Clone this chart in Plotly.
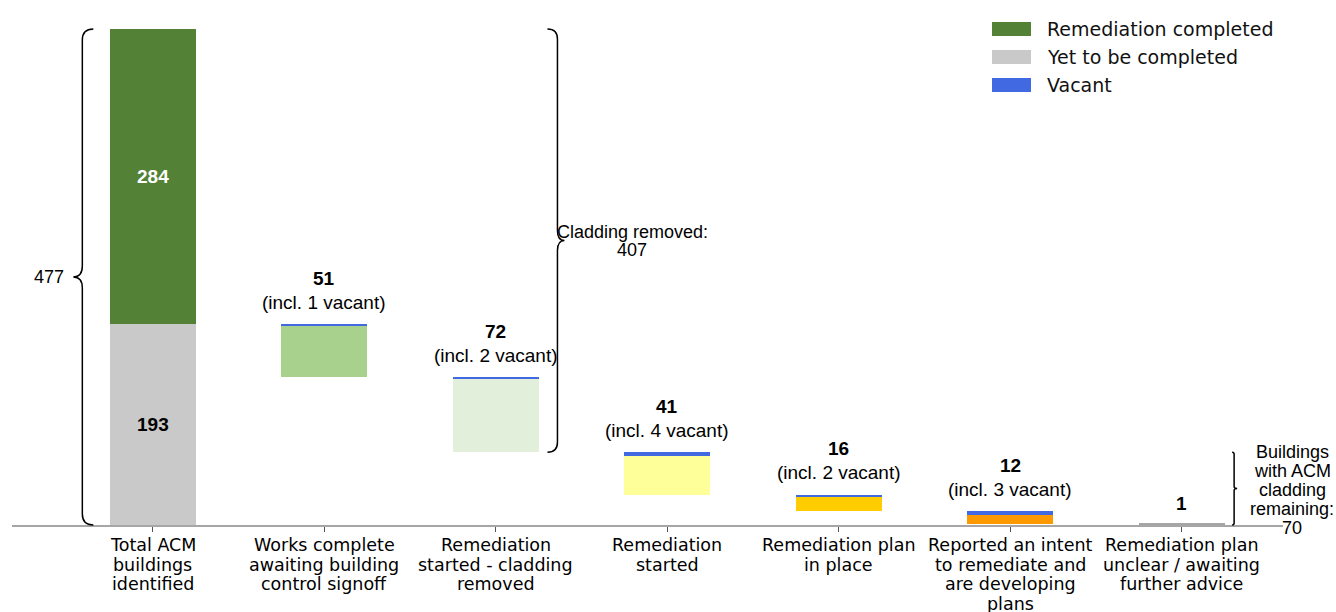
import plotly.graph_objects as go

# ---------------- data ----------------
tick_labels = [
    "Total ACM<br>buildings<br>identified",
    "Works complete<br>awaiting building<br>control signoff",
    "Remediation<br>started - cladding<br>removed",
    "Remediation<br>started",
    "Remediation plan<br>in place",
    "Reported an intent<br>to remediate and<br>are developing<br>plans",
    "Remediation plan<br>unclear / awaiting<br>further advice",
]
total_identified = 477
remediation_completed = 284
yet_to_complete = 193
stage_counts = [51, 72, 41, 16, 12, 1]
stage_vacant = [1, 2, 4, 2, 3, 0]
stage_colors = ["#A9D18E", "#E2EFDA", "#FFFF99", "#FFCC00", "#FF9900", "#A6A6A6"]
cladding_removed = 407
cladding_remaining = 70
legend_names = ["Remediation completed", "Yet to be completed", "Vacant"]
legend_colors = ["#538135", "#C9C9C9", "#4169E1"]

# ---------------- geometry ----------------
W, H = 1336, 612
ML, MR, MT, MB = 12, 53, 5, 87
XR = [-0.82, 6.59]
YR = [0, 500]
PW = W - ML - MR
PH = H - MT - MB

def xpx(v):
    return ML + (v - XR[0]) / (XR[1] - XR[0]) * PW

def ypx(v):
    return H - MB - (v - YR[0]) / (YR[1] - YR[0]) * PH

def xpap(p):
    return (p - ML) / PW

def ypap(p):
    return (H - MB - p) / PH

ANN_FONT = "Liberation Sans, Arial, sans-serif"
TICK_FONT = "DejaVu Sans, sans-serif"

# stage positions (waterfall down from the 'yet to be completed' total)
stage_x = list(range(1, len(stage_counts) + 1))
stage_tops, stage_bottoms = [], []
running = yet_to_complete
for c in stage_counts:
    stage_tops.append(running)
    running -= c
    stage_bottoms.append(running)

fig = go.Figure()

# total bar
fig.add_trace(go.Bar(x=[0], y=[yet_to_complete], base=[0], width=0.5,
                     marker=dict(color=legend_colors[1], line=dict(width=0)),
                     name=legend_names[1], showlegend=False))
fig.add_trace(go.Bar(x=[0], y=[remediation_completed], base=[yet_to_complete], width=0.5,
                     marker=dict(color=legend_colors[0], line=dict(width=0)),
                     name=legend_names[0], showlegend=False))
# stage bars (non-vacant part)
fig.add_trace(go.Bar(x=stage_x,
                     y=[c - v for c, v in zip(stage_counts, stage_vacant)],
                     base=stage_bottoms, width=0.5,
                     marker=dict(color=stage_colors, line=dict(width=0)),
                     showlegend=False))
# vacant part
fig.add_trace(go.Bar(x=stage_x, y=stage_vacant,
                     base=[t - v for t, v in zip(stage_tops, stage_vacant)], width=0.5,
                     marker=dict(color=legend_colors[2], line=dict(width=0)),
                     name=legend_names[2], showlegend=False))

annotations = []
shapes = []

# labels inside total bar
annotations.append(dict(x=0, y=yet_to_complete + remediation_completed / 2, xref="x", yref="y",
                        text="<b>%d</b>" % remediation_completed, showarrow=False,
                        font=dict(family=ANN_FONT, size=19, color="white")))
annotations.append(dict(x=0, y=yet_to_complete / 2, xref="x", yref="y",
                        text="<b>%d</b>" % yet_to_complete, showarrow=False,
                        font=dict(family=ANN_FONT, size=19, color="black")))

# value labels above stage bars
for xi, top, c, v in zip(stage_x, stage_tops, stage_counts, stage_vacant):
    if v > 0:
        annotations.append(dict(x=xi, y=top, xref="x", yref="y", yanchor="middle",
                                text="<b>%d</b>" % c, showarrow=False, yshift=46,
                                font=dict(family=ANN_FONT, size=19, color="black")))
        annotations.append(dict(x=xi, y=top, xref="x", yref="y", yanchor="middle",
                                text="(incl. %d vacant)" % v, showarrow=False, yshift=22,
                                font=dict(family=ANN_FONT, size=19, color="black")))
    else:
        annotations.append(dict(x=xi, y=top, xref="x", yref="y", yanchor="middle",
                                text="<b>%d</b>" % c, showarrow=False, yshift=20,
                                font=dict(family=ANN_FONT, size=19, color="black")))

# x tick labels (one annotation per line for tight line spacing)
for i, lab in enumerate(tick_labels):
    for j, line in enumerate(lab.split("<br>")):
        annotations.append(dict(x=i, y=0, xref="x", yref="paper", yanchor="middle",
                                text=line, showarrow=False, yshift=-(20 + 19.5 * j),
                                font=dict(family=TICK_FONT, size=17.5, color="black")))

def add_lines(lines, cx, cy, spacing, size, anchor="center"):
    n = len(lines)
    for k, line in enumerate(lines):
        py = cy + (k - (n - 1) / 2) * spacing
        annotations.append(dict(x=xpap(cx), y=ypap(py), xref="paper", yref="paper",
                                xanchor=anchor, yanchor="middle", text=line, showarrow=False,
                                font=dict(family=ANN_FONT, size=size, color="black")))

def brace(xv, y_lo, y_hi, direction, depth, curl):
    top, bot = ypx(y_hi), ypx(y_lo)
    mid = (top + bot) / 2
    d = direction
    pts = [
        ("M", [(xv - d * curl, top)]),
        ("Q", [(xv, top), (xv, top + curl)]),
        ("L", [(xv, mid - curl)]),
        ("Q", [(xv, mid), (xv + d * depth, mid)]),
        ("Q", [(xv, mid), (xv, mid + curl)]),
        ("L", [(xv, bot - curl)]),
        ("Q", [(xv, bot), (xv - d * curl, bot)]),
    ]
    path = ""
    for cmd, ps in pts:
        path += cmd + " ".join("%.5f,%.5f" % (xpap(px), ypap(py)) for px, py in ps) + " "
    shapes.append(dict(type="path", xref="paper", yref="paper", path=path.strip(),
                       line=dict(color="black", width=1.5)))
    return mid

# left brace: total identified
lx = xpx(-0.41)
mid = brace(lx, 0, total_identified, -1, 9, 11)
annotations.append(dict(x=xpap(lx - 16), y=ypap(mid), xref="paper", yref="paper",
                        xanchor="right", yanchor="middle", text=str(total_identified),
                        showarrow=False, font=dict(family=ANN_FONT, size=18, color="black")))

# right brace: cladding removed
rx = xpx(2.36)
mid = brace(rx, cladding_remaining, total_identified, 1, 7, 10)
add_lines(["Cladding removed:", str(cladding_removed)], rx + 75, mid, 18, 18)

# small brace: cladding remaining
sx = xpx(6.305)
mid = brace(sx, 0, cladding_remaining, 1, 3, 2)
add_lines(["Buildings", "with ACM", "cladding", "remaining:", str(cladding_remaining)],
          sx + 58, mid + 1, 19, 18)

# manual legend
for k, (nm, col) in enumerate(zip(legend_names, legend_colors)):
    cy = 29 + 28 * k
    shapes.append(dict(type="rect", xref="paper", yref="paper",
                       x0=xpap(992), x1=xpap(1031), y0=ypap(cy - 7), y1=ypap(cy + 7),
                       fillcolor=col, line=dict(width=0)))
    annotations.append(dict(x=xpap(1045), y=ypap(cy), xref="paper", yref="paper",
                            xanchor="left", yanchor="middle", text=nm, showarrow=False,
                            font=dict(family=TICK_FONT, size=19, color="#111111")))

fig.update_layout(
    width=W, height=H,
    margin=dict(l=ML, r=MR, t=MT, b=MB),
    paper_bgcolor="white", plot_bgcolor="white",
    barmode="overlay", bargap=0,
    showlegend=False,
    xaxis=dict(range=XR, showgrid=False, zeroline=False, showline=True,
               linecolor="#A6A6A6", linewidth=2, ticks="outside", ticklen=5,
               tickcolor="#555555", tickwidth=1, tickvals=list(range(len(tick_labels))),
               showticklabels=False, fixedrange=True),
    yaxis=dict(range=YR, visible=False, fixedrange=True),
    annotations=annotations,
    shapes=shapes,
)

fig.write_html("out.html", config={"displayModeBar": False},
               post_script="document.body.style.margin='0';document.body.style.padding='0';document.body.style.overflow='hidden';")
